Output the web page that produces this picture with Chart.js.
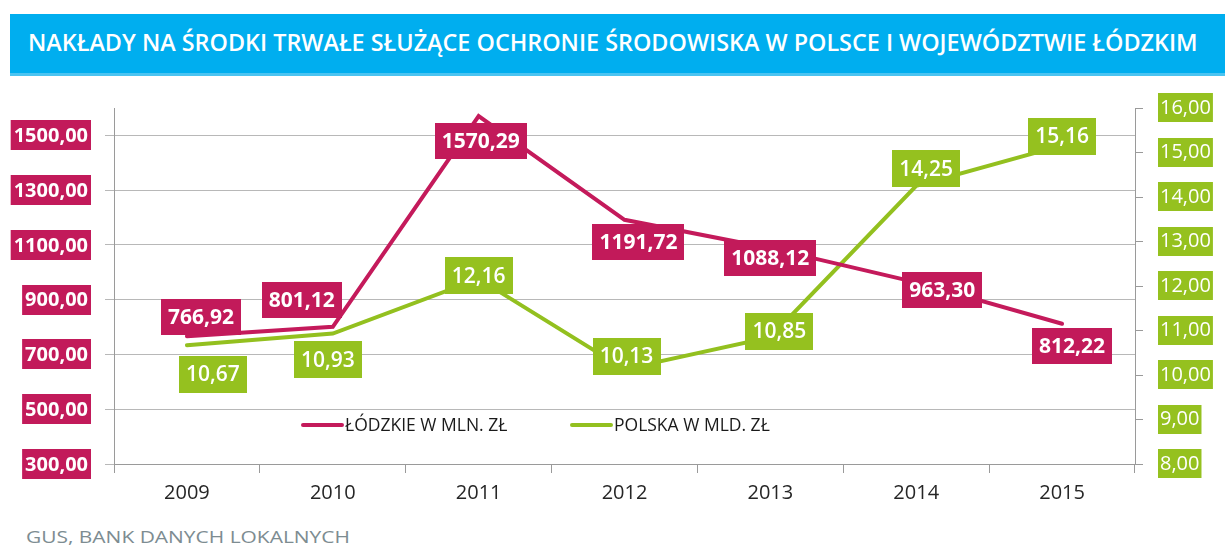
<!DOCTYPE html>
<html>
<head>
<meta charset="utf-8">
<script src="https://cdn.jsdelivr.net/npm/chart.js@4.4.1/dist/chart.umd.min.js"></script>
<style>
  body { margin: 0; width: 1225px; height: 548px; overflow: hidden; background: #fff; position: relative; font-family: "Open Sans", sans-serif; }
  #bar { position: absolute; left: 10px; top: 14px; width: 1215px; height: 59px; background: #00AEEF; border-bottom: 3px solid #4cc4f1; }
  #title { position: absolute; left: 18px; top: 0; line-height: 57px; white-space: nowrap; color: #fff; font-weight: 600; font-size: 23px; transform-origin: 0 50%; }
  #src { position: absolute; left: 26px; top: 525px; white-space: nowrap; color: #7d8c91; font-size: 17px; transform-origin: 0 50%; }
  #wrap { position: absolute; left: 0; top: 80px; width: 1225px; height: 440px; }
</style>
</head>
<body>
<div id="bar"><span id="title">NAKŁADY NA ŚRODKI TRWAŁE SŁUŻĄCE OCHRONIE ŚRODOWISKA W POLSCE I WOJEWÓDZTWIE ŁÓDZKIM</span></div>
<div id="wrap"><canvas id="chart"></canvas></div>
<span id="src">GUS, BANK DANYCH LOKALNYCH</span>
<script>
// data
const years = ['2009', '2010', '2011', '2012', '2013', '2014', '2015'];
const lodzkie = [766.92, 801.12, 1570.29, 1191.72, 1088.12, 963.30, 812.22]; // mln zł
const polska = [10.67, 10.93, 12.16, 10.13, 10.85, 14.25, 15.16];            // mld zł
const leftTicks = [300, 500, 700, 900, 1100, 1300, 1500];
const rightTicks = [8, 9, 10, 11, 12, 13, 14, 15, 16];

const PINK = '#C41A5B';
const GREEN = '#93C01F';
const FONT = '"Open Sans", sans-serif';

// where each data label box sits relative to its point (dx, dy of the box centre)
const lodzShift = [[14, -19], [-31, -27], [2, 25], [14, 22], [0, 10], [26, 8], [10, 22]];
const polskaShift = [[26, 29], [-5, 26], [0, -3], [2, -13], [9, -6], [10, -17], [0, -9]];

const fmt = (v) => v.toFixed(2).replace('.', ',');

function box(ctx, text, cx, cy, bg, font, padX, h) {
  ctx.font = font;
  const w = ctx.measureText(text).width + padX * 2;
  ctx.fillStyle = bg;
  ctx.fillRect(Math.round(cx - w / 2), Math.round(cy - h / 2), Math.round(w), h);
  ctx.fillStyle = '#fff';
  ctx.textAlign = 'center';
  ctx.textBaseline = 'middle';
  ctx.fillText(text, cx, cy + 1);
}

// labels on the points, boxed tick labels and the legend inside the plot
const decorations = {
  id: 'decorations',
  afterDraw(chart) {
    const ctx = chart.ctx;
    ctx.save();

    // left axis labels
    const yl = chart.scales.y;
    ctx.font = 'bold 20px ' + FONT;
    leftTicks.forEach((v) => {
      const t = fmt(v);
      const y = yl.getPixelForValue(v);
      const w = ctx.measureText(t).width + 6;
      ctx.fillStyle = '#C21A5A';
      ctx.fillRect(91 - w, Math.round(y - 15), w, 30);
      ctx.fillStyle = '#fff';
      ctx.textAlign = 'right';
      ctx.textBaseline = 'middle';
      ctx.fillText(t, 88, y + 1);
    });

    // right axis labels
    const yr = chart.scales.y2;
    ctx.font = '20px ' + FONT;
    rightTicks.forEach((v) => {
      const t = fmt(v);
      const y = yr.getPixelForValue(v);
      const w = ctx.measureText(t).width + 4;
      ctx.fillStyle = '#95C11F';
      ctx.fillRect(1158, Math.round(y - 15), w, 29);
      ctx.fillStyle = '#fff';
      ctx.textAlign = 'left';
      ctx.textBaseline = 'middle';
      ctx.fillText(t, 1160, y);
    });

    // data labels
    chart.getDatasetMeta(0).data.forEach((pt, i) => {
      box(ctx, fmt(lodzkie[i]), pt.x + lodzShift[i][0], pt.y + lodzShift[i][1], '#C21A5A', 'bold 21px ' + FONT, 7, 36);
    });
    chart.getDatasetMeta(1).data.forEach((pt, i) => {
      box(ctx, fmt(polska[i]), pt.x + polskaShift[i][0], pt.y + polskaShift[i][1], '#95C11F', '600 21px ' + FONT, 7, 37);
    });

    // legend
    const ly = 345;
    ctx.lineWidth = 4;
    ctx.lineCap = 'round';
    ctx.font = '17.5px ' + FONT;
    ctx.textAlign = 'left';
    ctx.textBaseline = 'middle';
    chart.data.datasets.forEach((ds, i) => {
      const x0 = i === 0 ? 303 : 572;
      ctx.strokeStyle = ds.borderColor;
      ctx.beginPath();
      ctx.moveTo(x0, ly);
      ctx.lineTo(x0 + 39, ly);
      ctx.stroke();
      ctx.fillStyle = '#1a1a1a';
      ctx.fillText(ds.label, x0 + 42, ly + 1);
    });

    ctx.restore();
  }
};

const AXIS = '#9a9a9a';
const GRID = '#b8b8b8';

new Chart(document.getElementById('chart'), {
  type: 'line',
  data: {
    labels: years,
    datasets: [
      { label: 'ŁÓDZKIE W MLN. ZŁ', data: lodzkie, yAxisID: 'y', borderColor: PINK, borderWidth: 4, pointRadius: 0, tension: 0, borderCapStyle: 'round' },
      { label: 'POLSKA W MLD. ZŁ', data: polska, yAxisID: 'y2', borderColor: GREEN, borderWidth: 4, pointRadius: 0, tension: 0, borderCapStyle: 'round' }
    ]
  },
  options: {
    responsive: true,
    maintainAspectRatio: false,
    animation: false,
    events: [],
    layout: { padding: { top: 28, left: 0, right: 0, bottom: 0 } },
    plugins: { legend: { display: false }, tooltip: { enabled: false } },
    scales: {
      x: {
        offset: true,
        grid: { drawOnChartArea: false, drawTicks: true, tickLength: 9, color: AXIS, offset: true },
        border: { color: AXIS },
        ticks: { color: '#262626', font: { family: FONT, size: 20 }, padding: 8 },
        afterFit: (s) => { s.height = 56; }
      },
      y: {
        position: 'left',
        min: 300, max: 1600,
        ticks: { display: false, stepSize: 200 },
        afterBuildTicks: (s) => { s.ticks = leftTicks.map((v) => ({ value: v })); },
        grid: { color: GRID, tickLength: 9, drawTicks: true },
        border: { color: AXIS },
        afterFit: (s) => { s.width = 114; }
      },
      y2: {
        position: 'right',
        min: 8, max: 16,
        ticks: { display: false, stepSize: 1 },
        afterBuildTicks: (s) => { s.ticks = rightTicks.map((v) => ({ value: v })); },
        grid: { drawOnChartArea: false, color: AXIS, tickLength: 8 },
        border: { color: AXIS },
        afterFit: (s) => { s.width = 90; }
      }
    }
  },
  plugins: [decorations]
});

// stretch the html texts to the widths they have in the picture
function fit(id, target) {
  const el = document.getElementById(id);
  el.style.transform = 'scaleX(' + (target / el.offsetWidth) + ')';
}
fit('title', 1170);
fit('src', 324);
</script>
</body>
</html>
